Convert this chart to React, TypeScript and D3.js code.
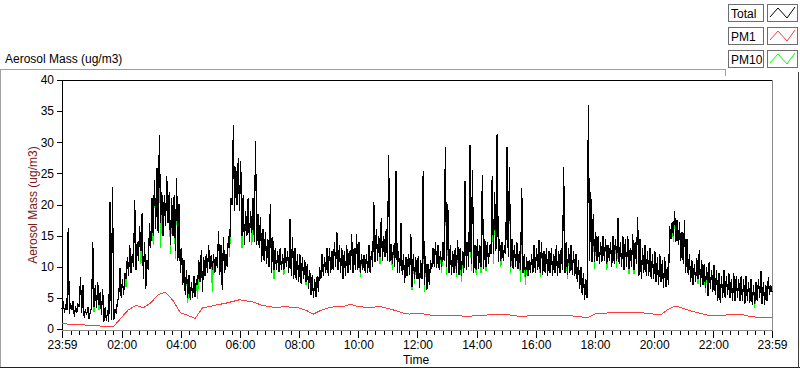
import React, { useEffect, useRef } from "react";
import * as d3 from "d3";

const W = 800;
const H = 369;

// Total aerosol mass, 5-minute bins from 23:59: lowest and highest reading in each bin
const totalMin = [
  3.2, 2.6, 3.0, 2.4, 3.0, 2.0, 2.6, 3.5, 2.6, 1.8, 2.2, 1.6,
  3.5, 3.6, 3.4, 3.8, 2.2, 1.2, 1.3, 1.2, 1.5, 1.4, 2.5, 5.0,
  5.0, 5.5, 8.0, 8.5, 9.0, 10.0, 9.5, 11.0, 12.5, 8.0, 6.5, 9.5,
  13.0, 15.0, 16.0, 15.5, 17.0, 15.0, 16.5, 17.0, 13.5, 15.0, 12.5, 11.0,
  9.0, 7.0, 5.5, 5.0, 4.7, 5.0, 5.2, 7.0, 7.5, 6.0, 8.5, 9.0,
  9.6, 9.5, 9.0, 9.8, 8.7, 6.3, 9.0, 10.0, 13.0, 20.0, 19.0, 20.0,
  19.0, 15.0, 13.5, 15.0, 14.0, 15.5, 14.0, 13.5, 13.0, 10.8, 11.0, 10.5,
  10.0, 9.0, 9.5, 9.5, 9.2, 9.5, 9.5, 10.0, 9.0, 8.5, 8.0, 7.8,
  7.5, 7.3, 8.0, 7.5, 6.5, 5.5, 5.0, 5.2, 6.0, 8.0, 8.5, 9.0,
  8.5, 9.0, 9.5, 10.0, 9.5, 9.0, 8.1, 8.5, 9.0, 9.5, 9.0, 9.5,
  9.5, 9.0, 9.5, 9.0, 9.0, 9.0, 10.0, 10.8, 11.0, 11.5, 11.0, 11.5,
  11.0, 10.8, 10.5, 10.0, 9.0, 9.0, 8.7, 7.4, 8.5, 8.7, 6.8, 8.0,
  8.0, 6.6, 8.0, 7.0, 6.3, 7.0, 9.7, 10.0, 9.8, 9.5, 10.0, 11.0,
  10.0, 9.0, 8.7, 9.0, 9.0, 8.7, 8.5, 9.0, 9.5, 10.0, 10.5, 9.0,
  9.5, 9.7, 10.0, 9.7, 10.0, 10.5, 12.0, 12.0, 12.5, 10.8, 11.0, 11.0,
  12.0, 11.5, 10.0, 9.7, 10.0, 9.7, 9.5, 9.0, 8.4, 8.5, 9.0, 9.0,
  9.0, 9.5, 9.0, 8.7, 9.0, 8.5, 9.0, 8.5, 9.0, 8.5, 9.0, 9.5,
  9.0, 8.7, 9.0, 8.7, 8.5, 7.5, 6.5, 5.5, 4.7, 5.0, 11.0, 10.8,
  10.8, 11.0, 10.5, 10.8, 11.0, 10.5, 11.0, 10.0, 10.5, 11.0, 10.5, 10.0,
  9.5, 10.0, 9.7, 10.0, 9.5, 10.5, 8.5, 8.0, 9.0, 8.5, 8.5, 8.0,
  8.0, 7.5, 7.0, 7.5, 6.6, 6.8, 7.0, 14.5, 15.0, 14.0, 13.5, 11.0,
  10.5, 9.0, 8.7, 7.5, 7.0, 7.5, 8.0, 6.8, 7.0, 6.6, 5.3, 6.5,
  6.0, 5.5, 4.5, 4.2, 5.0, 5.0, 5.5, 5.0, 4.5, 4.5, 5.0, 4.5,
  4.5, 4.0, 4.5, 4.2, 3.8, 4.0, 4.5, 5.0, 4.0, 3.8, 4.5, 5.5, 6.0,
];
const totalMax = [
  4.5, 4.0, 16.2, 4.2, 4.5, 3.6, 4.0, 8.3, 7.0, 3.2, 3.6, 2.8,
  14.0, 7.0, 7.5, 6.0, 6.5, 3.5, 3.0, 20.4, 22.8, 3.2, 4.5, 9.8,
  8.0, 9.0, 11.5, 13.5, 12.0, 20.8, 14.0, 16.5, 18.6, 14.0, 11.0, 17.0,
  21.0, 24.0, 25.8, 31.2, 22.0, 21.5, 24.6, 22.0, 21.0, 21.5, 24.2, 20.0,
  13.0, 11.0, 9.5, 8.7, 7.5, 8.5, 8.0, 11.0, 12.7, 11.5, 12.0, 13.5,
  11.8, 12.0, 11.5, 15.7, 13.5, 14.7, 12.0, 15.0, 21.0, 32.8, 26.0, 27.5,
  27.0, 21.5, 19.0, 21.0, 19.0, 21.0, 30.2, 18.5, 18.0, 16.0, 15.5, 14.5,
  20.0, 14.7, 13.0, 12.5, 13.0, 12.0, 13.0, 12.5, 17.7, 14.7, 13.0, 12.0,
  12.0, 11.5, 11.0, 10.5, 9.5, 8.7, 8.0, 8.5, 10.0, 12.0, 11.5, 13.0,
  13.0, 12.5, 14.0, 15.5, 13.5, 13.0, 12.5, 13.5, 12.5, 15.2, 13.0, 15.2,
  14.0, 12.0, 11.8, 12.0, 13.5, 12.5, 20.4, 16.0, 15.0, 17.8, 15.0, 16.0,
  27.9, 13.7, 13.5, 25.4, 12.5, 17.0, 12.0, 11.5, 12.0, 15.3, 12.0, 11.5,
  11.7, 11.0, 25.4, 11.7, 10.5, 11.0, 13.0, 14.0, 13.5, 12.5, 14.0, 29.3,
  20.0, 13.5, 12.5, 13.0, 14.3, 13.0, 12.5, 23.8, 14.0, 29.6, 25.5, 13.5,
  14.5, 13.5, 24.7, 14.5, 14.0, 13.5, 24.5, 22.0, 31.3, 14.5, 14.0, 13.5,
  29.3, 26.0, 14.5, 13.5, 14.0, 12.5, 22.6, 12.0, 11.5, 11.0, 12.0, 13.5,
  13.0, 14.3, 14.0, 12.5, 13.0, 12.5, 13.0, 12.0, 13.5, 12.5, 13.0, 26.0,
  14.0, 13.0, 13.5, 12.5, 12.0, 11.0, 10.0, 9.0, 8.0, 36.0, 22.0, 18.5,
  15.5, 15.0, 14.0, 15.0, 14.5, 13.5, 14.0, 15.0, 14.5, 17.8, 14.0, 15.0,
  14.5, 15.0, 13.0, 15.3, 14.0, 18.0, 14.5, 13.0, 13.5, 12.5, 13.0, 12.0,
  12.5, 11.5, 12.0, 11.0, 11.5, 10.0, 16.5, 17.2, 18.9, 17.5, 17.2, 15.5,
  17.5, 14.5, 12.0, 11.0, 10.5, 11.4, 12.7, 11.0, 10.5, 10.0, 10.8, 9.5,
  10.2, 9.5, 9.0, 8.5, 9.5, 8.5, 9.0, 8.0, 9.0, 8.5, 8.0, 8.5,
  8.0, 8.5, 7.5, 8.0, 7.0, 7.5, 8.0, 9.3, 7.5, 7.0, 8.3, 7.0, 6.5,
];

// bins where the PM10 low falls below the Total low: [bin, PM10 low]
const pm10Low = [
  [13, 2.8], [15, 3.0], [26, 6.8], [32, 10.5], [37, 13.5], [40, 13.0], [44, 12.0], [46, 11.3],
  [51, 4.2], [55, 4.8], [61, 6.0], [68, 11.5], [73, 13.0], [77, 13.5], [86, 8.0], [90, 8.7],
  [99, 7.0], [121, 8.3], [129, 10.5], [134, 9.5], [142, 6.3], [143, 7.3], [147, 6.0], [154, 9.0],
  [156, 8.7], [160, 8.3], [162, 7.5], [166, 9.3], [168, 8.7], [170, 9.0], [172, 9.3], [175, 10.5],
  [178, 10.0], [182, 9.0], [186, 7.5], [188, 7.0], [194, 8.3], [205, 8.0], [216, 9.7], [221, 9.5],
  [225, 9.8], [230, 8.8], [232, 8.8], [248, 14.0], [258, 7.2], [261, 5.8], [281, 3.4],
];

// PM1, one value every 15 minutes from 23:59
const pm1Mass = [
  0.9, 0.75, 0.7, 0.65, 0.55, 0.5, 0.4, 0.4, 1.8, 3.1, 3.8, 3.4,
  4.2, 5.5, 5.9, 4.6, 2.6, 2.2, 1.7, 3.4, 3.6, 3.9, 4.1, 4.4,
  4.7, 4.5, 4.3, 3.8, 3.6, 3.4, 3.6, 3.5, 3.4, 3.0, 2.4, 3.0,
  3.4, 3.6, 3.6, 4.0, 3.6, 3.5, 3.5, 3.6, 3.3, 3.0, 2.6, 2.4,
  2.5, 2.4, 2.2, 2.2, 2.1, 2.2, 2.1, 2.0, 2.2, 2.2, 2.3, 2.3,
  2.3, 2.2, 2.0, 2.1, 2.1, 2.1, 2.2, 2.1, 2.2, 2.1, 2.0, 1.8,
  2.4, 2.5, 2.6, 2.6, 2.6, 2.6, 2.7, 2.5, 2.4, 2.3, 3.2, 3.7,
  3.3, 2.9, 2.6, 2.3, 2.1, 2.1, 2.3, 2.4, 2.3, 2.0, 1.9, 1.8, 1.8,
];

const yTicks = [0, 5, 10, 15, 20, 25, 30, 35, 40];
const timeLabels = ["23:59", "02:00", "04:00", "06:00", "08:00", "10:00", "12:00",
  "14:00", "16:00", "18:00", "20:00", "22:00", "23:59"];

const legendItems = [
  { name: "Total", color: "#000000" },
  { name: "PM1", color: "#ff3c3c" },
  { name: "PM10", color: "#00ff00" },
];

const FONT = "'Liberation Sans', Arial, sans-serif";

export default function App() {
  const ref = useRef<SVGSVGElement>(null);

  useEffect(() => {
    const svg = d3.select(ref.current);
    svg.selectAll("*").remove();

    const left = 62, right = 772, top = 80, bottom = 329;
    const t0 = new Date(2020, 0, 1, 23, 59);
    const t1 = new Date(2020, 0, 2, 23, 59);
    const x = d3.scaleTime().domain([t0, t1]).range([left, right]);
    const y = d3.scaleLinear().domain([0, 40]).range([bottom, top]);

    const at = (minutes: number) => new Date(t0.getTime() + minutes * 60000);

    // outer panel
    svg.append("rect").attr("width", W).attr("height", H).attr("fill", "#ffffff");
    svg.append("line").attr("x1", 0.5).attr("x2", 0.5).attr("y1", 69).attr("y2", 368).attr("stroke", "#a0a0a0");
    svg.append("line").attr("x1", 0).attr("x2", 726).attr("y1", 69.5).attr("y2", 69.5).attr("stroke", "#a0a0a0");
    svg.append("line").attr("x1", 725.5).attr("x2", 725.5).attr("y1", 69).attr("y2", 76).attr("stroke", "#a0a0a0");
    svg.append("line").attr("x1", 0).attr("x2", 800).attr("y1", 367.5).attr("y2", 367.5).attr("stroke", "#202020");
    svg.append("line").attr("x1", 798.5).attr("x2", 798.5).attr("y1", 72).attr("y2", 368).attr("stroke", "#404040");

    svg.append("text").attr("x", 5).attr("y", 63).text("Aerosol Mass (ug/m3)")
      .attr("font-family", FONT).attr("font-size", 12).attr("fill", "#000");

    // plot frame
    svg.append("line").attr("x1", left + 0.5).attr("x2", left + 0.5).attr("y1", top).attr("y2", bottom + 1).attr("stroke", "#000");
    svg.append("line").attr("x1", left).attr("x2", right + 1).attr("y1", top + 0.5).attr("y2", top + 0.5).attr("stroke", "#000");
    svg.append("line").attr("x1", right + 0.5).attr("x2", right + 0.5).attr("y1", top).attr("y2", bottom + 2).attr("stroke", "#8c8c8c");
    svg.append("line").attr("x1", left).attr("x2", right + 1).attr("y1", bottom + 1.5).attr("y2", bottom + 1.5).attr("stroke", "#8c8c8c");

    // y axis
    const yAxis = svg.append("g").attr("transform", `translate(${left},0)`)
      .call(d3.axisLeft(y).tickValues(yTicks).tickSize(5).tickPadding(3).tickFormat(d3.format("d")));
    yAxis.select(".domain").remove();
    yAxis.selectAll("text").attr("font-family", FONT).attr("font-size", 12).attr("fill", "#000");

    // x axis
    const majors = timeLabels.map((s, i) => {
      const [hh, mm] = s.split(":").map(Number);
      return new Date(2020, 0, i === 0 ? 1 : 2, hh, mm);
    });
    const minors: Date[] = [];
    for (let i = 0; i < majors.length - 1; i++) {
      const a = majors[i].getTime(), b = majors[i + 1].getTime();
      for (let k = 1; k < 7; k++) minors.push(new Date(a + (b - a) * k / 7));
    }
    const xMinor = svg.append("g").attr("transform", `translate(0,${bottom + 2})`)
      .call(d3.axisBottom(x).tickValues(minors).tickSize(4).tickFormat(() => ""));
    xMinor.select(".domain").remove();
    const xAxis = svg.append("g").attr("transform", `translate(0,${bottom + 2})`)
      .call(d3.axisBottom(x).tickValues(majors).tickSize(7).tickPadding(2)
        .tickFormat((d, i) => timeLabels[i]));
    xAxis.select(".domain").remove();
    xAxis.selectAll("text").attr("font-family", FONT).attr("font-size", 12).attr("fill", "#000");
    svg.selectAll(".tick line").attr("stroke", "#000").attr("shape-rendering", "crispEdges");

    svg.append("text").attr("x", 416).attr("y", 364).attr("text-anchor", "middle").text("Time")
      .attr("font-family", FONT).attr("font-size", 12).attr("fill", "#000");
    svg.append("text").attr("transform", `translate(37,205) rotate(-90)`).attr("text-anchor", "middle")
      .text("Aerosol Mass (ug/m3)").attr("font-family", FONT).attr("font-size", 12).attr("fill", "#7a1a1a");

    // series: each 5-minute bin drawn low then high, like a min/max decimated trace
    const pm10Min = totalMin.slice();
    pm10Low.forEach(([i, v]) => { pm10Min[i] = v; });
    const envelope = (lo: number[], hi: number[]) => {
      const pts: [Date, number][] = [];
      lo.forEach((v, i) => {
        pts.push([at(i * 5), v]);
        if (i < lo.length - 1) pts.push([at(i * 5 + 2.5), hi[i]]);
      });
      return pts;
    };

    const line = d3.line<[Date, number]>().x(d => x(d[0])).y(d => y(d[1]));
    const plot = svg.append("g").attr("shape-rendering", "crispEdges");
    plot.append("path").datum(envelope(pm10Min, totalMax))
      .attr("d", line).attr("fill", "none").attr("stroke", "#00ff00").attr("stroke-width", 1.2);
    plot.append("path").datum(envelope(totalMin, totalMax))
      .attr("d", line).attr("fill", "none").attr("stroke", "#000").attr("stroke-width", 1.2);
    plot.append("path").datum(pm1Mass.map((v, i) => [at(i * 15), v] as [Date, number]))
      .attr("d", line).attr("fill", "none").attr("stroke", "#ff3c3c").attr("stroke-width", 1);

    // legend
    const lg = svg.append("g");
    legendItems.forEach((d, i) => {
      const y0 = 4 + i * 23;
      lg.append("rect").attr("x", 728.5).attr("y", y0 + 0.5).attr("width", 35).attr("height", 17)
        .attr("fill", "#fff").attr("stroke", "#6d6d6d");
      lg.append("text").attr("x", 731).attr("y", y0 + 13.5).text(d.name)
        .attr("font-family", FONT).attr("font-size", 12).attr("fill", "#000");
      lg.append("rect").attr("x", 767.5).attr("y", y0 + 0.5).attr("width", 30).attr("height", 17)
        .attr("fill", "#fff").attr("stroke", "#6d6d6d");
      lg.append("path").attr("d", `M770,${y0 + 13} L778,${y0 + 4} L787,${y0 + 14} L795,${y0 + 3}`)
        .attr("fill", "none").attr("stroke", d.color);
    });
  }, []);

  return <svg ref={ref} width={W} height={H} style={{ position: "absolute", left: 0, top: 0 }} />;
}
